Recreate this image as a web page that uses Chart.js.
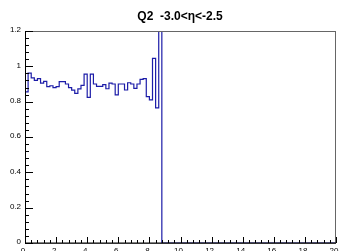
<!DOCTYPE html>
<html>
<head>
<meta charset="utf-8">
<script src="https://cdn.jsdelivr.net/npm/chart.js@4.4.1/dist/chart.umd.min.js"></script>
<style>
  body { margin: 0; background: #fff; }
  canvas { display: block; }
</style>
</head>
<body>
<canvas id="graph" width="340" height="251"></canvas>
<script>
// histogram data
const title = "Q2  -3.0<\u03b7<-2.5";
const binWidth = 0.2;
const binValues = [
  0.855, 0.962, 0.935, 0.92, 0.93, 0.905, 0.915, 0.885, 0.89, 0.88,
  0.885, 0.913, 0.913, 0.9, 0.88, 0.865, 0.847, 0.872, 0.892, 0.956,
  0.824, 0.956, 0.9, 0.887, 0.887, 0.896, 0.873, 0.905, 0.9, 0.838,
  0.9, 0.9, 0.866, 0.907, 0.9, 0.875, 0.9, 0.926, 0.93, 0.828,
  0.81, 1.045, 0.765, 3.2
];
const xMax = 20;
const yTickValues = [0, 0.2, 0.4, 0.6, 0.8, 1, 1.2];
const yTickLabels = ["0", "0.2", "0.4", "0.6", "0.8", "1", "1.2"];
const xTickValues = [0, 2, 4, 6, 8, 10, 12, 14, 16, 18, 20];
const xTickLabels = ["0", "2", "4", "6", "8", "10", "12", "14", "16", "18", "20"];

window.onload = function () {
  loadChart(document.querySelector("#graph"));
}

function histPoints() {
  const pts = binValues.map((v, i) => ({ x: i * binWidth, y: v }));
  pts.push({ x: binValues.length * binWidth, y: 0 });
  pts.push({ x: xMax, y: 0 });
  return pts;
}

// ROOT style frame, inward ticks, labels and title
const rootFrame = {
  id: "rootFrame",
  afterDraw(chart) {
    const ctx = chart.ctx;
    const a = chart.chartArea;
    const xs = chart.scales.x, ys = chart.scales.y;
    ctx.save();

    // frame
    ctx.strokeStyle = "#666";
    ctx.lineWidth = 1;
    ctx.strokeRect(a.left + 0.5, a.top + 0.5, a.right - a.left - 1, a.bottom - a.top);

    ctx.strokeStyle = "#000";
    ctx.beginPath();
    ctx.moveTo(a.left + 0.5, a.top);
    ctx.lineTo(a.left + 0.5, a.bottom);
    ctx.lineTo(a.right, a.bottom);
    ctx.stroke();

    // y ticks
    ctx.beginPath();
    for (let i = 0; i < yTickValues.length; i++) {
      const py = Math.round(ys.getPixelForValue(yTickValues[i])) + 0.5;
      ctx.moveTo(a.left, py);
      ctx.lineTo(a.left + 8, py);
      if (i < yTickValues.length - 1) {
        const step = (yTickValues[i + 1] - yTickValues[i]) / 5;
        for (let k = 1; k < 5; k++) {
          const my = Math.round(ys.getPixelForValue(yTickValues[i] + k * step)) + 0.5;
          ctx.moveTo(a.left, my);
          ctx.lineTo(a.left + 4, my);
        }
      }
    }
    // x ticks
    for (let i = 0; i < xTickValues.length; i++) {
      const px = Math.round(xs.getPixelForValue(xTickValues[i])) + 0.5;
      ctx.moveTo(px, a.bottom);
      ctx.lineTo(px, a.bottom - 6);
      if (i < xTickValues.length - 1) {
        const step = (xTickValues[i + 1] - xTickValues[i]) / 5;
        for (let k = 1; k < 5; k++) {
          const mx = Math.round(xs.getPixelForValue(xTickValues[i] + k * step)) + 0.5;
          ctx.moveTo(mx, a.bottom);
          ctx.lineTo(mx, a.bottom - 3);
        }
      }
    }
    ctx.stroke();

    // labels
    ctx.fillStyle = "#000";
    ctx.font = "8px 'Liberation Sans', Arial, sans-serif";
    ctx.textAlign = "right";
    ctx.textBaseline = "middle";
    yTickValues.forEach((v, i) => {
      ctx.fillText(yTickLabels[i], a.left - 4, ys.getPixelForValue(v) - 1);
    });
    ctx.textAlign = "center";
    ctx.textBaseline = "top";
    xTickValues.forEach((v, i) => {
      ctx.fillText(xTickLabels[i], xs.getPixelForValue(v) - 2, a.bottom + 4);
    });

    // title
    ctx.font = "bold 12px 'Liberation Sans', Arial, sans-serif";
    ctx.textBaseline = "alphabetic";
    ctx.fillText(title, 180, 20);
    ctx.restore();
  }
};

function loadChart(element) {
  new Chart(element, {
    type: "line",
    data: {
      datasets: [{
        data: histPoints(),
        stepped: "before",
        borderColor: "#1c1ca8",
        borderWidth: 1.2,
        pointRadius: 0,
        fill: false
      }]
    },
    options: {
      responsive: false,
      animation: false,
      layout: { padding: { left: 25, right: 4, top: 31, bottom: 8 } },
      plugins: { legend: { display: false }, tooltip: { enabled: false } },
      scales: {
        x: { type: "linear", min: 0, max: xMax, display: false },
        y: { min: 0, max: 1.2, display: false }
      }
    },
    plugins: [rootFrame]
  });
}
</script>
</body>
</html>
